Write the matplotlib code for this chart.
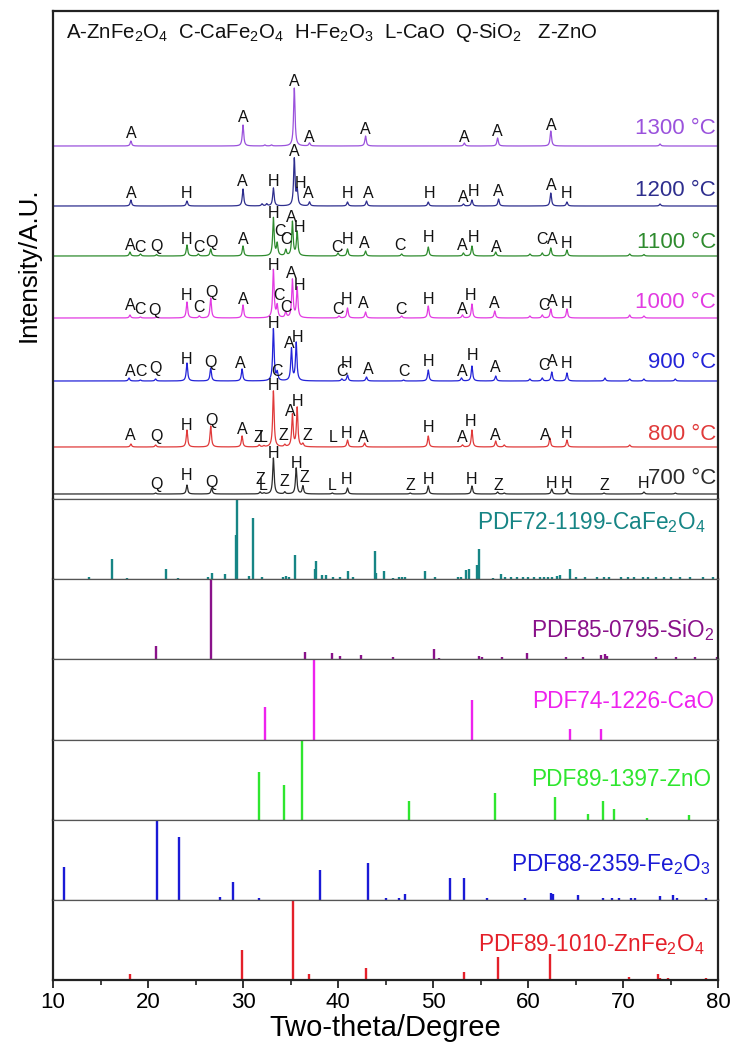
import numpy as np
import matplotlib
matplotlib.use('Agg')
import matplotlib.pyplot as plt
from matplotlib.ticker import MultipleLocator

plt.rcParams['font.family'] = ['Liberation Sans', 'DejaVu Sans']
plt.rcParams['mathtext.fontset'] = 'custom'
plt.rcParams['mathtext.rm'] = 'Liberation Sans'
plt.rcParams['mathtext.it'] = 'Liberation Sans:italic'
plt.rcParams['mathtext.bf'] = 'Liberation Sans:bold'

# ---------------- XRD patterns (peak position / intensity) -----------
temps = ['700 °C', '800 °C', '900 °C', '1000 °C', '1100 °C', '1200 °C', '1300 °C']

pk700_x = [20.8, 24.1, 26.7, 31.8, 32.2, 33.2, 34.4, 35.6, 36.3, 39.4, 41.0, 47.6, 49.5, 54.1, 56.8, 57.5, 62.5, 64.1, 68.0, 72.2, 75.5]
pk700_y = [1, 9, 6, 2, 1, 36, 2, 26, 8, 1, 6, 1, 8, 8, 2, 1, 5, 5, 1, 2, 1]
pk800_x = [18.2, 20.8, 24.1, 26.6, 29.9, 31.7, 32.2, 33.2, 34.4, 35.2, 35.7, 36.3, 41.0, 42.8, 49.5, 53.1, 54.1, 56.6, 57.5, 62.3, 64.1, 70.7]
pk800_y = [3, 2, 17, 21, 11, 2, 1, 56, 2, 32, 39, 3, 7, 4, 11, 2, 17, 6, 2, 9, 7, 2]
pk900_x = [18.0, 19.2, 20.8, 24.1, 26.6, 29.9, 33.2, 33.6, 35.1, 35.6, 40.4, 41.0, 43.0, 46.9, 49.5, 53.0, 54.1, 56.6, 60.2, 61.5, 62.5, 64.1, 68.1, 70.7, 72.2, 75.5]
pk900_y = [3, 1, 2, 18, 13, 12, 52, 8, 32, 38, 2, 6, 4, 1, 11, 3, 15, 5, 2, 3, 9, 8, 3, 2, 2, 2]
pk1000_x = [18.1, 19.2, 20.9, 24.1, 25.4, 26.6, 30.0, 33.2, 33.6, 34.5, 35.2, 35.7, 40.1, 41.0, 42.9, 46.7, 49.5, 53.1, 54.1, 56.5, 60.2, 61.5, 62.4, 64.1, 70.7, 72.2]
pk1000_y = [3, 1, 1, 16, 2, 20, 13, 48, 12, 6, 38, 30, 2, 10, 6, 2, 12, 3, 14, 7, 2, 3, 9, 9, 3, 2]
pk1100_x = [18.1, 19.2, 20.9, 24.1, 25.3, 26.6, 30.0, 33.2, 33.6, 34.5, 35.2, 35.7, 40.0, 41.0, 42.9, 46.7, 49.5, 53.2, 54.1, 56.6, 60.2, 61.5, 62.4, 64.1, 70.7, 72.2]
pk1100_y = [4, 2, 1.5, 11, 2, 7, 10, 38, 12, 6, 34, 24, 3, 7, 5, 2, 9, 3, 10, 4, 2, 3, 8, 6, 2, 1.5]
pk1200_x = [18.2, 24.1, 30.0, 32.0, 32.5, 33.2, 35.4, 35.7, 37.0, 41.0, 43.0, 49.5, 53.2, 54.1, 56.9, 62.4, 64.1, 73.9]
pk1200_y = [6, 5, 17, 2, 2, 18, 47, 15, 4, 4, 5, 4, 2, 6, 7, 13, 4, 2]
pk1300_x = [18.2, 30.0, 32.3, 33.0, 35.4, 37.0, 42.9, 53.3, 56.8, 62.4, 73.9]
pk1300_y = [5, 21, 1, 1, 58, 3, 10, 3, 8, 15, 2]

# phase letters above the peaks
lb700_x = [20.9, 24.1, 26.7, 31.8, 32.1, 33.2, 34.4, 35.6, 36.5, 39.4, 40.9, 47.6, 49.5, 54.1, 56.9, 62.5, 64.1, 68.0, 72.2]
lb700_y = [10, 18, 12, 14, 8, 41, 12, 31, 16, 9, 14, 9, 14, 15, 9, 11, 11, 9, 10]
lb700_t = list('QHQZLHZHZLHZHHZHHZH')
lb800_x = [18.1, 20.9, 24.1, 26.7, 29.9, 31.6, 32.1, 33.2, 34.3, 35.0, 35.7, 36.8, 39.5, 40.9, 42.7, 49.5, 53.1, 53.9, 56.6, 61.8, 64.1]
lb800_y = [11, 11, 21, 27, 18, 10, 9, 61, 11, 36, 46, 11, 9, 14, 10, 19, 9, 25, 11, 12, 13]
lb800_t = list('AQHQAZLHZAHZLHAHAHAAH')
lb900_x = [18.1, 19.3, 20.8, 24.0, 26.6, 29.7, 33.2, 33.6, 34.9, 35.7, 40.4, 40.9, 43.2, 46.9, 49.5, 53.1, 54.2, 56.6, 61.7, 62.6, 64.0]
lb900_y = [9, 9, 12, 22, 18, 18, 58, 9, 38, 44, 9, 18, 11, 9, 19, 9, 25, 14, 16, 19, 18]
lb900_t = list('ACQHQAHCAHCHACHAHACAH')
lb1000_x = [18.1, 19.2, 20.7, 24.0, 25.4, 26.7, 30.0, 33.2, 33.8, 34.5, 35.1, 35.9, 40.0, 40.9, 42.7, 46.6, 49.5, 53.1, 54.0, 56.5, 61.7, 62.6, 64.1]
lb1000_y = [12, 8, 8, 23, 10, 25, 19, 53, 22, 10, 45, 33, 8, 18, 14, 9, 18, 9, 22, 15, 13, 17, 14]
lb1000_t = list('ACQHCQAHCCAHCHACHAHACAH')
lb1100_x = [18.1, 19.2, 20.9, 24.0, 25.4, 26.7, 30.0, 33.2, 33.9, 34.5, 35.1, 35.9, 39.9, 41.0, 42.8, 46.5, 49.5, 53.1, 54.3, 56.7, 61.5, 62.6, 64.1]
lb1100_y = [11, 9, 9, 16, 9, 14, 17, 43, 24, 16, 39, 29, 9, 16, 12, 10, 18, 10, 18, 9, 16, 16, 13]
lb1100_t = list('ACQHCQAHCCAHCHACHAHACAH')
lb1200_x = [18.2, 24.1, 29.9, 33.2, 35.4, 36.0, 36.9, 41.0, 43.2, 49.6, 53.2, 54.3, 56.9, 62.5, 64.1]
lb1200_y = [12, 12, 24, 25, 54, 22, 12, 13, 13, 12, 9, 15, 15, 21, 12]
lb1200_t = list('AHAHAHAHAHAHAAH')
lb1300_x = [18.2, 30.0, 35.4, 37.0, 42.9, 53.3, 56.8, 62.4]
lb1300_y = [12, 28, 65, 9, 16, 9, 14, 21]
lb1300_t = list('AAAAAAAA')

# ---------------- PDF reference cards (2-theta, relative intensity) ----------------------
pdf_names = ['PDF72-1199-CaFe$_2$O$_4$', 'PDF85-0795-SiO$_2$', 'PDF74-1226-CaO',
             'PDF89-1397-ZnO', 'PDF88-2359-Fe$_2$O$_3$', 'PDF89-1010-ZnFe$_2$O$_4$']

cafe_x = [13.8, 16.2, 17.8, 21.9, 23.2, 26.3, 26.7, 28.1, 29.25, 29.35, 30.6, 31.1, 32.0, 34.2, 34.5, 34.8,
          35.5, 37.6, 37.7, 38.3, 38.7, 39.5, 40.2, 41.1, 41.6, 43.9, 44.0, 44.8, 45.8, 46.4, 46.7, 47.0,
          49.2, 50.2, 52.6, 52.9, 53.5, 53.8, 54.6, 54.8, 56.3, 57.2, 57.6, 58.2, 58.8, 59.5, 60.0, 60.6,
          61.3, 61.7, 62.1, 62.5, 63.1, 63.4, 64.4, 65.0, 66.0, 67.3, 68.0, 68.5, 69.8, 70.5, 71.2, 72.1,
          72.6, 73.5, 74.3, 75.1, 76.0, 77.0, 78.4, 79.5]
cafe_y = [3, 25, 1, 12, 1, 3, 8, 6, 55, 100, 4, 76, 2, 3, 4, 3,
          30, 12, 22, 5, 5, 3, 3, 10, 2, 35, 8, 10, 1, 3, 3, 2,
          10, 3, 2, 2, 11, 12, 17, 37, 1, 6, 2, 3, 2, 2, 3, 2,
          2, 3, 2, 3, 4, 5, 13, 2, 2, 2, 2, 2, 2, 2, 2, 3,
          2, 2, 2, 2, 2, 2, 3, 2]
sio2_x = [20.8, 26.6, 36.5, 39.4, 40.2, 42.4, 45.8, 50.1, 50.6, 54.8, 55.2, 57.3, 59.9, 64.0, 65.8,
          67.7, 68.1, 68.3, 73.5, 75.6, 77.6, 79.9]
sio2_y = [16, 100, 9, 8, 4, 5, 3, 13, 1, 4, 2, 2, 8, 3, 2, 5, 6, 4, 2, 3, 2, 3]
cao_x = [32.3, 37.5, 54.1, 64.4, 67.7]
cao_y = [41, 100, 49, 13, 13]
zno_x = [31.7, 34.3, 36.2, 47.5, 56.5, 62.8, 66.3, 67.9, 69.0, 72.5, 76.9]
zno_y = [60, 44, 100, 24, 34, 29, 7, 24, 14, 3, 6]
fe2o3_x = [11.2, 20.9, 23.3, 27.6, 28.9, 31.7, 38.1, 43.2, 45.0, 46.4, 47.1, 51.8, 53.3, 55.7, 59.7,
           62.4, 62.6, 65.3, 67.9, 68.8, 69.6, 70.8, 71.3, 73.9, 75.3, 75.7, 78.7]
fe2o3_y = [41, 100, 79, 4, 22, 3, 37, 46, 2, 3, 8, 27, 27, 2, 3, 9, 7, 6, 3, 2, 2, 2, 3, 5, 6, 2, 2]
znfe_x = [18.1, 29.9, 35.3, 36.9, 42.9, 47.0, 53.3, 56.8, 62.3, 65.5, 66.6, 70.6, 73.7, 73.9, 74.7, 78.7]
znfe_y = [7, 37, 100, 7, 15, 1, 10, 29, 33, 1, 1, 4, 7, 3, 3, 2]

# ---------------- styles / layout ----------------
xrd_colors = ['#2B2B2B', '#E03A3A', '#2323D8', '#E23BE2', '#2E8B2E', '#2E2E8E', '#9A52DC']
pdf_colors = ['#168585', '#8A128A', '#EE22EE', '#2FE62F', '#1A1AD6', '#E4202A']
baselines = [5, 52, 118, 181, 243, 293, 353]          # panel-pixel offsets of each pattern
temp_label_dy = [16, 12, 18, 16, 13, 16, 17]
pdf_label_y = [0.70, 0.36, 0.47, 0.50, 0.44, 0.44]
pdf_label_x = [0.982, 0.995, 0.994, 0.99, 0.988, 0.979]

W, H = 731, 1046
fig = plt.figure(figsize=(W / 100, H / 100), dpi=100)
L, R = 53, 718
top_xrd, bot_xrd = 11, 499
pdf_edges = [499, 579, 659, 740, 820, 900, 980]

def add_ax(y0, y1):
    return fig.add_axes([L / W, 1 - y1 / H, (R - L) / W, (y1 - y0) / H])

ax = add_ax(top_xrd, bot_xrd)
ax.set_xlim(10, 80)
ax.set_ylim(0, bot_xrd - top_xrd)

theta = np.linspace(10, 80, 7001)
peaks_x = [pk700_x, pk800_x, pk900_x, pk1000_x, pk1100_x, pk1200_x, pk1300_x]
peaks_y = [pk700_y, pk800_y, pk900_y, pk1000_y, pk1100_y, pk1200_y, pk1300_y]
labs_x = [lb700_x, lb800_x, lb900_x, lb1000_x, lb1100_x, lb1200_x, lb1300_x]
labs_y = [lb700_y, lb800_y, lb900_y, lb1000_y, lb1100_y, lb1200_y, lb1300_y]
labs_t = [lb700_t, lb800_t, lb900_t, lb1000_t, lb1100_t, lb1200_t, lb1300_t]

hw = 0.09
for i in range(7):
    px = np.array(peaks_x[i])[:, None]
    py = np.array(peaks_y[i])[:, None]
    prof = (py / (1 + ((theta[None, :] - px) / hw) ** 2)).sum(axis=0)
    ax.plot(theta, baselines[i] + prof, color=xrd_colors[i], lw=0.9)
    for xx, yy, tt in zip(labs_x[i], labs_y[i], labs_t[i]):
        ax.text(xx, baselines[i] + yy, tt, ha='center', va='center', fontsize=11.5, color='#111111')
    ax.text(0.997, baselines[i] + temp_label_dy[i], temps[i], transform=ax.get_yaxis_transform(),
            ha='right', va='center', fontsize=16, color=xrd_colors[i])

ax.text(0.02, (bot_xrd - top_xrd) - 22,
        'A-ZnFe$_2$O$_4$  C-CaFe$_2$O$_4$  H-Fe$_2$O$_3$  L-CaO  Q-SiO$_2$   Z-ZnO',
        transform=ax.get_yaxis_transform(), ha='left', va='center', fontsize=14.7, color='#111111')

ax.set_xticks([]); ax.set_yticks([])
for s in ['left', 'right', 'top']:
    ax.spines[s].set_linewidth(1.6); ax.spines[s].set_color('#222222')
ax.spines['bottom'].set_linewidth(0.9); ax.spines['bottom'].set_color('#555555')

pdf_xs = [cafe_x, sio2_x, cao_x, zno_x, fe2o3_x, znfe_x]
pdf_ys = [cafe_y, sio2_y, cao_y, zno_y, fe2o3_y, znfe_y]
for k in range(6):
    a = add_ax(pdf_edges[k], pdf_edges[k + 1])
    a.set_xlim(10, 80)
    a.set_ylim(0, 100)
    a.vlines(pdf_xs[k], 0, pdf_ys[k], color=pdf_colors[k], lw=1.7)
    a.text(pdf_label_x[k], pdf_label_y[k], pdf_names[k], transform=a.transAxes,
           ha='right', va='center', fontsize=16.3, color=pdf_colors[k])
    a.set_yticks([])
    for s in ['left', 'right']:
        a.spines[s].set_linewidth(1.6); a.spines[s].set_color('#222222')
    a.spines['top'].set_linewidth(0.9); a.spines['top'].set_color('#555555')
    if k < 5:
        a.set_xticks([])
        a.spines['bottom'].set_linewidth(0.9); a.spines['bottom'].set_color('#555555')
    else:
        a.spines['bottom'].set_linewidth(1.6); a.spines['bottom'].set_color('#222222')
        a.xaxis.set_major_locator(MultipleLocator(10))
        a.xaxis.set_minor_locator(MultipleLocator(5))
        a.tick_params(axis='x', which='major', direction='out', length=6, width=1.3,
                      labelsize=16, pad=3, color='#222222')
        a.tick_params(axis='x', which='minor', direction='out', length=3.5, width=1.2, color='#222222')
        a.set_xlabel('Two-theta/Degree', fontsize=21, labelpad=0)

fig.text(29 / W, 1 - 265 / H, 'Intensity/A.U.', rotation=90, ha='center', va='center', fontsize=18.7)

fig.savefig('out.png', dpi=100)
